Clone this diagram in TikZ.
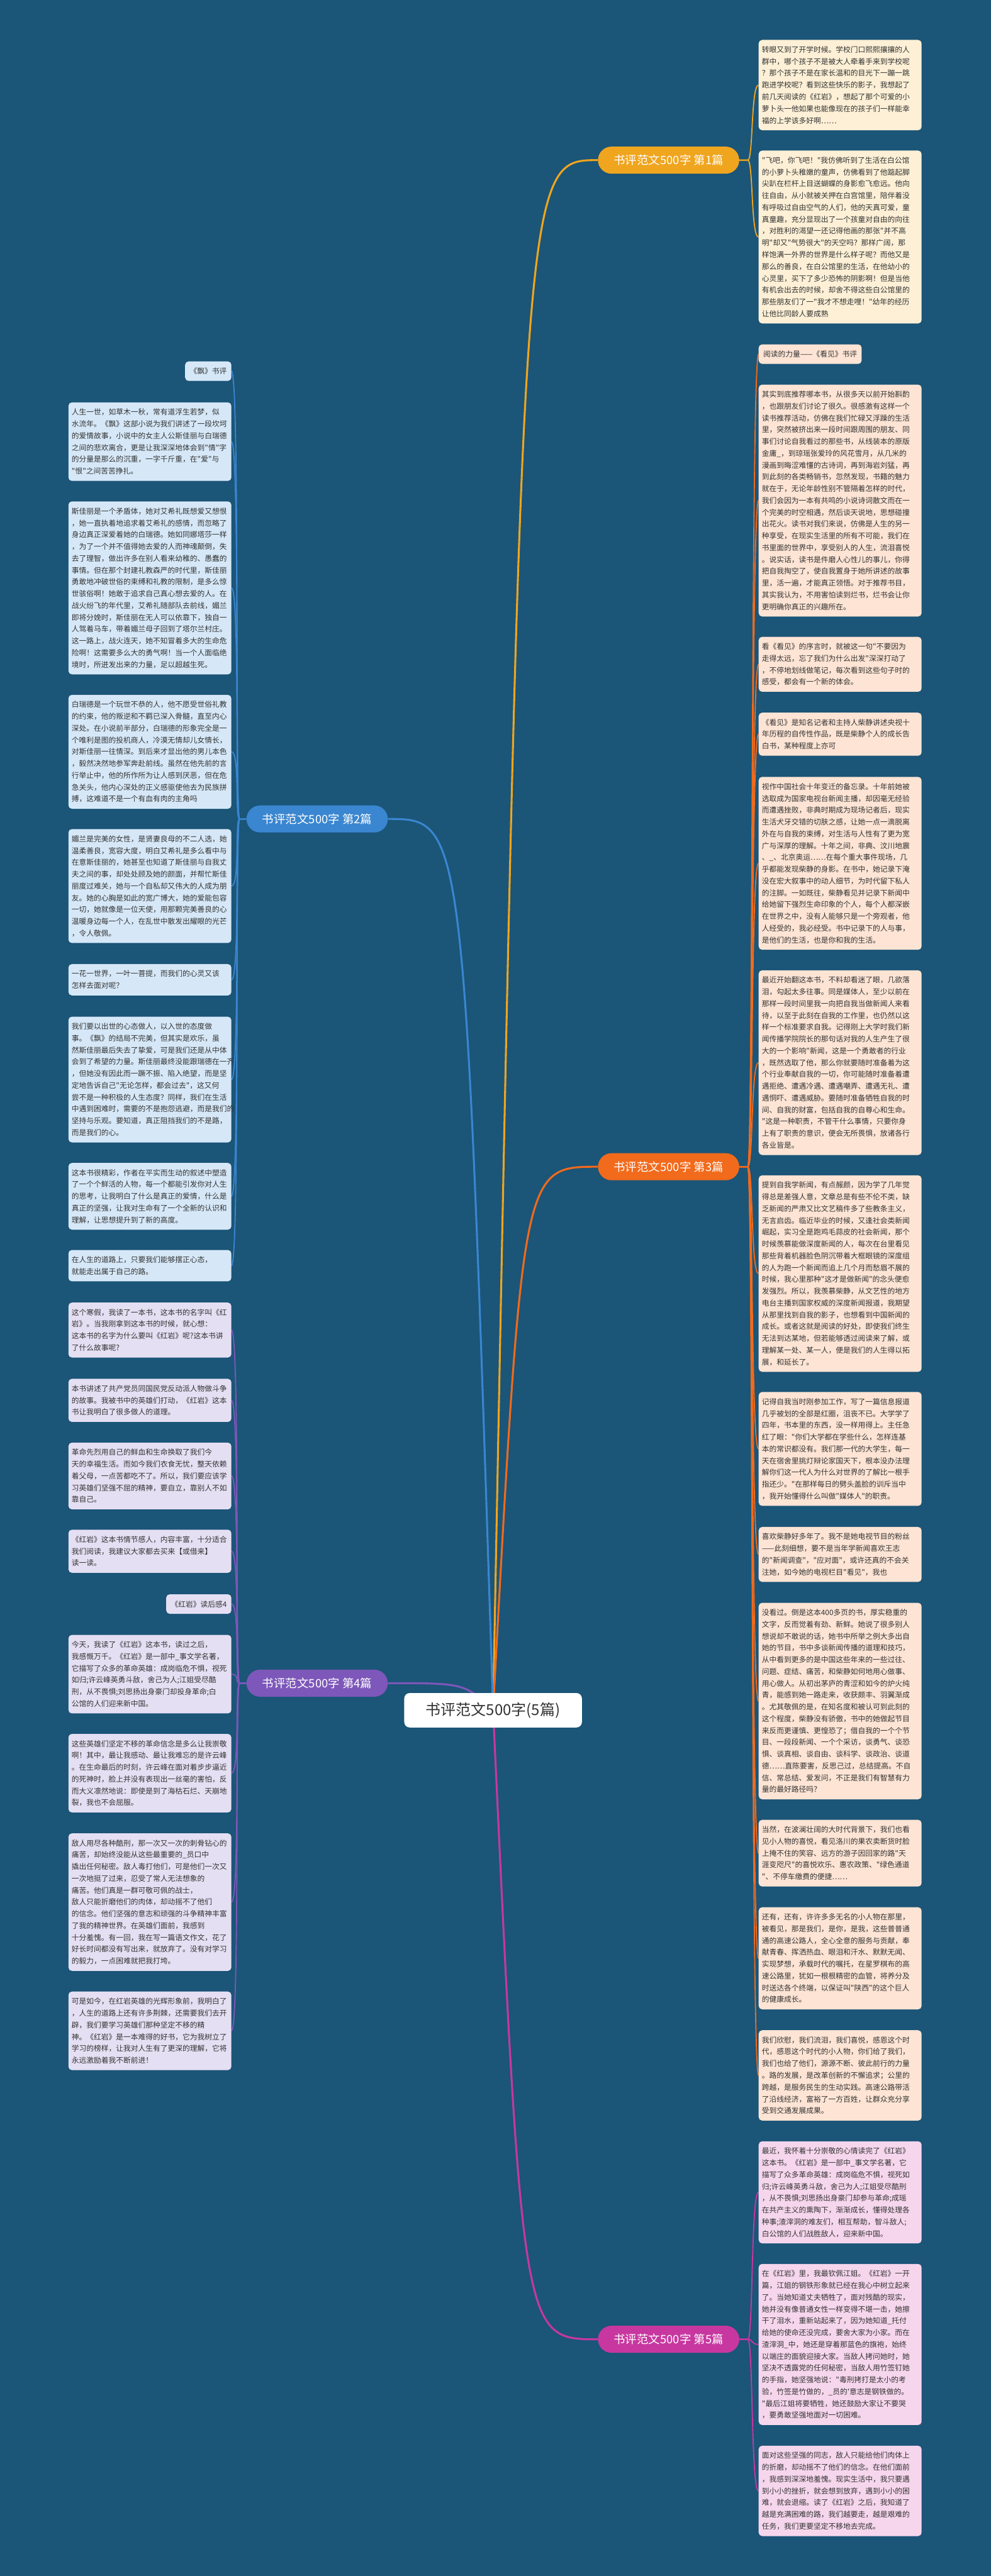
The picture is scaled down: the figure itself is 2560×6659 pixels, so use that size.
\documentclass[tikz,border=0pt]{standalone}
\usepackage{fontspec}
\newfontfamily\cjk{Noto Sans CJK SC}
\usetikzlibrary{backgrounds}
\definecolor{bgc}{RGB}{27,85,120}
\definecolor{txt}{RGB}{51,51,51}
\definecolor{c1}{RGB}{240,165,30}
\definecolor{c2}{RGB}{58,134,208}
\definecolor{c3}{RGB}{242,106,27}
\definecolor{c4}{RGB}{125,87,185}
\definecolor{c5}{RGB}{200,55,160}
\definecolor{l1}{RGB}{253,240,214}
\definecolor{l2}{RGB}{214,232,248}
\definecolor{l3}{RGB}{253,228,212}
\definecolor{l4}{RGB}{229,223,243}
\definecolor{l5}{RGB}{246,214,237}
\newcommand\leaffont{\cjk\fontsize{19.1pt}{30.5pt}\selectfont}
\newcommand\brfont{\cjk\fontsize{30pt}{30pt}\selectfont}
\newcommand\cenfont{\cjk\fontsize{39pt}{39pt}\selectfont}
\newcommand\lstrut{\rule{0pt}{22.5pt}}
\newcommand\lendstrut{\rule[-8pt]{0pt}{8pt}}
\tikzset{
  leafbox/.style={fill=#1, rounded corners=9pt, inner xsep=8.5pt, inner ysep=10pt, text width=404pt, align=left, font=\leaffont, text=txt, execute at begin node=\lstrut, execute at end node=\lendstrut},
  leafR/.style={leafbox=#1, anchor=north west},
  leafL/.style={leafbox=#1, anchor=north east},
  tagbox/.style={fill=#1, rounded corners=9pt, inner xsep=12pt, inner ysep=10pt, font=\leaffont, text=txt, execute at begin node=\lstrut, execute at end node=\lendstrut},
  branchbox/.style={fill=#1, text=white, rounded corners=35pt, minimum height=70pt, minimum width=365pt, inner sep=0pt, font=\brfont},
  link/.style={draw=#1, line width=3pt},
  mainlink/.style={draw=#1, line width=5pt},
}
\begin{document}
\begin{tikzpicture}[x=1pt,y=-1pt]
\useasboundingbox (0,0) rectangle (2560,6659);
% centre and branches
\node[fill=white, rounded corners=14pt, minimum width=459pt, minimum height=89pt, inner sep=0pt, font=\cenfont, text=txt] (C) at (1274,4421) {书评范文500字(5篇)};
\node[branchbox=c1] (B1) at (1727.5,414) {书评范文500字 第1篇};
\node[branchbox=c2] (B2) at (819.5,2117) {书评范文500字 第2篇};
\node[branchbox=c3] (B3) at (1727.5,3016) {书评范文500字 第3篇};
\node[branchbox=c4] (B4) at (819.5,4351) {书评范文500字 第4篇};
\node[branchbox=c5] (B5) at (1727.5,6047) {书评范文500字 第5篇};
% branch 1
\node[leafR=l1] (R1a) at (1960,103) {转眼又到了开学时候。学校门口熙熙攘攘的人\\群中，哪个孩子不是被大人牵着手来到学校呢\\？那个孩子不是在家长温和的目光下一蹦一跳\\跑进学校呢？看到这些快乐的影子，我想起了\\前几天阅读的《红岩》，想起了那个可爱的小\\萝卜头一他如果也能像现在的孩子们一样能幸\\福的上学该多好啊……};
\node[leafR=l1] (R1b) at (1960,389) {"飞吧，你飞吧！"我仿佛听到了生活在白公馆\\的小萝卜头稚嫩的童声，仿佛看到了他踮起脚\\尖趴在栏杆上目送蝴蝶的身影愈飞愈远。他向\\往自由，从小就被关押在白宫馆里，陪伴着没\\有呼吸过自由空气的人们，他的天真可爱，童\\真童趣，充分显现出了一个孩童对自由的向往\\，对胜利的渴望一还记得他画的那张"并不高\\明"却又"气势很大"的天空吗？那样广阔，那\\样饱满一外界的世界是什么样子呢？而他又是\\那么的善良，在白公馆里的生活，在他幼小的\\心灵里，买下了多少恐怖的阴影啊！但是当他\\有机会出去的时候，却舍不得这些白公馆里的\\那些朋友们了一"我才不想走哩！"幼年的经历\\让他比同龄人要成熟};
% branch 3
\node[tagbox=l3, anchor=north west] (R3a) at (1960,890) {阅读的力量——《看见》书评};
\node[leafR=l3] (R3b) at (1960,994) {其实到底推荐哪本书，从很多天以前开始斟酌\\，也跟朋友们讨论了很久。很感激有这样一个\\读书推荐活动，仿佛在我们忙碌又浮躁的生活\\里，突然被挤出来一段时间跟周围的朋友、同\\事们讨论自我看过的那些书，从线装本的原版\\金庸\_，到琼瑶张爱玲的风花雪月，从几米的\\漫画到晦涩难懂的古诗词，再到海岩刘猛，再\\到此刻的各类畅销书，忽然发现，书籍的魅力\\就在于，无论年龄性别不管隔着怎样的时代，\\我们会因为一本有共鸣的小说诗词散文而在一\\个完美的时空相遇，然后谈天说地，思想碰撞\\出花火。读书对我们来说，仿佛是人生的另一\\种享受，在现实生活里的所有不可能，我们在\\书里面的世界中，享受别人的人生，流泪喜悦\\。说实话，读书是件磨人心性儿的事儿，你得\\把自我掏空了，使自我置身于她所讲述的故事\\里，活一遍，才能真正领悟。对于推荐书目，\\其实我认为，不用害怕读到烂书，烂书会让你\\更明确你真正的兴趣所在。};
\node[leafR=l3] (R3c) at (1960,1646) {看《看见》的序言时，就被这一句"不要因为\\走得太远，忘了我们为什么出发"深深打动了\\，不停地划线做笔记，每次看到这些句子时的\\感受，都会有一个新的体会。};
\node[leafR=l3] (R3d) at (1960,1842) {《看见》是知名记者和主持人柴静讲述央视十\\年历程的自传性作品，既是柴静个人的成长告\\白书，某种程度上亦可};
\node[leafR=l3] (R3e) at (1960,2008) {视作中国社会十年变迁的备忘录。十年前她被\\选取成为国家电视台新闻主播，却因毫无经验\\而遭遇挫败，非典时期成为现场记者后，现实\\生活犬牙交错的切肤之感，让她一点一滴脱离\\外在与自我的束缚，对生活与人性有了更为宽\\广与深厚的理解。十年之间，非典、汶川地震\\、\_、北京奥运……在每个重大事件现场，几\\乎都能发现柴静的身影。在书中，她记录下淹\\没在宏大叙事中的动人细节，为时代留下私人\\的注脚。一如既往，柴静看见并记录下新闻中\\给她留下强烈生命印象的个人，每个人都深嵌\\在世界之中，没有人能够只是一个旁观者，他\\人经受的，我必经受。书中记录下的人与事，\\是他们的生活，也是你和我的生活。};
\node[leafR=l3] (R3f) at (1960,2508) {最近开始翻这本书，不料却看迷了眼，几欲落\\泪，勾起太多往事。同是媒体人，至少以前在\\那样一段时间里我一向把自我当做新闻人来看\\待，以至于此刻在自我的工作里，也仍然以这\\样一个标准要求自我。记得刚上大学时我们新\\闻传播学院院长的那句话对我的人生产生了很\\大的一个影响"新闻，这是一个勇敢者的行业\\，既然选取了他，那么你就要随时准备着为这\\个行业奉献自我的一切，你可能随时准备着遭\\遇拒绝、遭遇冷遇、遭遇嘲弄、遭遇无礼、遭\\遇恫吓、遭遇威胁。要随时准备牺牲自我的时\\间、自我的财富，包括自我的自尊心和生命。\\"这是一种职责，不管干什么事情，只要你身\\上有了职责的意识，便会无所畏惧，放诸各行\\各业皆是。};
\node[leafR=l3] (R3g) at (1960,3038) {提到自我学新闻，有点赧颜，因为学了几年觉\\得总是差强人意，文章总是有些不伦不类，缺\\乏新闻的严肃又比文艺稿件多了些教条主义，\\无言启齿。临近毕业的时候，又逢社会类新闻\\崛起，实习全是跑鸡毛蒜皮的社会新闻，那个\\时候羡慕能做深度新闻的人，每次在台里看见\\那些背着机器脸色阴沉带着大框眼镜的深度组\\的人为跑一个新闻而追上几个月而愁眉不展的\\时候，我心里那种"这才是做新闻"的念头便愈\\发强烈。所以，我羡慕柴静，从文艺性的地方\\电台主播到国家权威的深度新闻报道，我期望\\从那里找到自我的影子，也想看到中国新闻的\\成长。或者这就是阅读的好处，即使我们终生\\无法到达某地，但若能够透过阅读来了解，或\\理解某一处、某一人，便是我们的人生得以拓\\展，和延长了。};
\node[leafR=l3] (R3h) at (1960,3598) {记得自我当时刚参加工作，写了一篇信息报道\\几乎被划的全部是红圈，沮丧不已。大学学了\\四年，书本里的东西，没一样用得上。主任急\\红了眼："你们大学都在学些什么，怎样连基\\本的常识都没有。我们那一代的大学生，每一\\天在宿舍里挑灯辩论家国天下，根本没办法理\\解你们这一代人为什么对世界的了解比一根手\\指还少。"在那样每日的劈头盖脸的训斥当中\\，我开始懂得什么叫做"媒体人"的职责。};
\node[leafR=l3] (R3i) at (1960,3947) {喜欢柴静好多年了。我不是她电视节目的粉丝\\——此刻细想，要不是当年学新闻喜欢王志\\的"新闻调查"，"应对面"，或许还真的不会关\\注她，如今她的电视栏目"看见"，我也};
\node[leafR=l3] (R3j) at (1960,4143) {没看过。倒是这本400多页的书，厚实稳重的\\文字，反而觉着有劲、新鲜。她说了很多别人\\想说却不敢说的话，她书中所举之例大多出自\\她的节目，书中多谈新闻传播的道理和技巧，\\从中看到更多的是中国这些年来的一些过往、\\问题、症结、痛苦，和柴静如何地用心做事、\\用心做人。从初出茅庐的青涩和如今的炉火纯\\青，能感到她一路走来，收获颇丰、羽翼渐成\\。尤其敬佩的是，在知名度和被认可到此刻的\\这个程度，柴静没有骄傲，书中的她做起节目\\来反而更谨慎、更惶恐了；借自我的一个个节\\目、一段段新闻、一个个采访，谈勇气、谈恐\\惧、谈真相、谈自由、谈科学、谈政治、谈道\\德……直陈要害，反思己过，总结提高。不自\\信、常总结、爱发问，不正是我们有智慧有力\\量的最好路径吗？};
\node[leafR=l3] (R3k) at (1960,4704) {当然，在波澜壮阔的大时代背景下，我们也看\\见小人物的喜悦，看见洛川的果农卖断货时脸\\上掩不住的笑容、远方的游子因回家的路"天\\涯变咫尺"的喜悦欢乐、惠农政策、"绿色通道\\"、不停车缴费的便捷……};
\node[leafR=l3] (R3l) at (1960,4930) {还有，还有，许许多多无名的小人物在那里，\\被看见，那是我们，是你，是我，这些普普通\\通的高速公路人，全心全意的服务与贡献，奉\\献青春、挥洒热血、眼泪和汗水、默默无闻、\\实现梦想，承载时代的嘱托，在星罗棋布的高\\速公路里，犹如一根根精密的血管，将养分及\\时送达各个终端，以保证叫"陕西"的这个巨人\\的健康成长。};
\node[leafR=l3] (R3m) at (1960,5248) {我们欣慰，我们流泪，我们喜悦，感恩这个时\\代，感恩这个时代的小人物，你们给了我们，\\我们也给了他们，源源不断、彼此前行的力量\\。路的发展，是改革创新的不懈追求；公里的\\跨越，是服务民生的生动实践。高速公路带活\\了沿线经济，富裕了一方百姓，让群众充分享\\受到交通发展成果。};
% branch 5
\node[leafR=l5] (R5a) at (1960,5535) {最近，我怀着十分崇敬的心情读完了《红岩》\\这本书。《红岩》是一部中\_事文学名著，它\\描写了众多革命英雄：成岗临危不惧，视死如\\归;许云峰英勇斗敌，舍己为人;江姐受尽酷刑\\，从不畏惧;刘思扬出身豪门却参与革命;成瑶\\在共产主义的熏陶下，渐渐成长，懂得处理各\\种事;渣滓洞的难友们，相互帮助，智斗敌人;\\白公馆的人们战胜敌人，迎来新中国。};
\node[leafR=l5] (R5b) at (1960,5852) {在《红岩》里，我最钦佩江姐。《红岩》一开\\篇，江姐的钢铁形象就已经在我心中树立起来\\了。当她知道丈夫牺牲了，面对残酷的现实，\\她并没有像普通女性一样变得不堪一击，她擦\\干了泪水，重新站起来了，因为她知道\_托付\\给她的使命还没完成，要舍大家为小家。而在\\渣滓洞\_中，她还是穿着那蓝色的旗袍，始终\\以端庄的面貌迎接大家。当敌人拷问她时，她\\坚决不透露党的任何秘密，当敌人用竹签钉她\\的手指，她坚强地说："毒刑拷打是太小的考\\验，竹签是竹做的，\_员的'意志是钢铁做的。\\"最后江姐将要牺牲，她还鼓励大家让不要哭\\，要勇敢坚强地面对一切困难。};
\node[leafR=l5] (R5c) at (1960,6322) {面对这些坚强的同志，敌人只能给他们肉体上\\的折磨，却动摇不了他们的信念。在他们面前\\，我感到深深地羞愧。现实生活中，我只要遇\\到小小的挫折，就会想到放弃，遇到小小的困\\难，就会退缩。读了《红岩》之后，我知道了\\越是充满困难的路，我们越要走，越是艰难的\\任务，我们更要坚定不移地去完成。};
% branch 2 (left)
\node[tagbox=l2, anchor=north east] (L2a) at (598,934) {《飘》书评};
\node[leafL=l2] (L2b) at (598,1040) {人生一世，如草木一秋，常有道浮生若梦，似\\水流年。《飘》这部小说为我们讲述了一段坎坷\\的爱情故事，小说中的女主人公斯佳丽与白瑞德\\之间的悲欢离合，更是让我深深地体会到"情"字\\的分量是那么的沉重，一字千斤重，在"爱"与\\"恨"之间苦苦挣扎。};
\node[leafL=l2] (L2c) at (598,1296) {斯佳丽是一个矛盾体，她对艾希礼既想爱又想恨\\，她一直执着地追求着艾希礼的感情，而忽略了\\身边真正深爱着她的白瑞德。她如同娜塔莎一样\\，为了一个并不值得她去爱的人而神魂颠倒，失\\去了理智，做出许多在别人看来幼稚的、愚蠢的\\事情。但在那个封建礼教森严的时代里，斯佳丽\\勇敢地冲破世俗的束缚和礼教的限制，是多么惊\\世骇俗啊！她敢于追求自己真心想去爱的人。在\\战火纷飞的年代里，艾希礼随部队去前线，媚兰\\即将分娩时，斯佳丽在无人可以依靠下，独自一\\人驾着马车，带着媚兰母子回到了塔尔兰村庄。\\这一路上，战火连天，她不知冒着多大的生命危\\险啊！这需要多么大的勇气啊！当一个人面临绝\\境时，所迸发出来的力量，足以超越生死。};
\node[leafL=l2] (L2d) at (598,1796) {白瑞德是一个玩世不恭的人，他不愿受世俗礼教\\的约束，他的叛逆和不羁已深入骨髓，直至内心\\深处。在小说前半部分，白瑞德的形象完全是一\\个唯利是图的投机商人，冷漠无情却儿女情长，\\对斯佳丽一往情深。到后来才显出他的男儿本色\\，毅然决然地参军奔赴前线。虽然在他先前的言\\行举止中，他的所作所为让人感到厌恶，但在危\\急关头，他内心深处的正义感驱使他去为民族拼\\搏，这难道不是一个有血有肉的主角吗};
\node[leafL=l2] (L2e) at (598,2143) {媚兰是完美的女性，是贤妻良母的不二人选，她\\温柔善良，宽容大度，明白艾希礼是多么看中与\\在意斯佳丽的，她甚至也知道了斯佳丽与自我丈\\夫之间的事，却处处顾及她的颜面，并帮忙斯佳\\丽度过难关，她与一个自私却又伟大的人成为朋\\友。她的心胸是如此的宽广博大，她的爱能包容\\一切，她就像是一位天使，用那颗完美善良的心\\温暖身边每一个人，在乱世中散发出耀眼的光芒\\，令人敬佩。};
\node[leafL=l2] (L2f) at (598,2492) {一花一世界，一叶一菩提，而我们的心灵又该\\怎样去面对呢？};
\node[leafL=l2] (L2g) at (598,2628) {我们要以出世的心态做人，以入世的态度做\\事。《飘》的结局不完美，但其实是欢乐，虽\\然斯佳丽最后失去了挚爱，可是我们还是从中体\\会到了希望的力量。斯佳丽最终没能跟瑞德在一齐\\，但她没有因此而一蹶不振、陷入绝望，而是坚\\定地告诉自己"无论怎样，都会过去"，这又何\\尝不是一种积极的人生态度？同样，我们在生活\\中遇到困难时，需要的不是抱怨逃避，而是我们的\\坚持与乐观。要知道，真正阻挡我们的不是路，\\而是我们的心。};
\node[leafL=l2] (L2h) at (598,3006) {这本书很精彩，作者在平实而生动的叙述中塑造\\了一个个鲜活的人物，每一个都能引发你对人生\\的思考，让我明白了什么是真正的爱情，什么是\\真正的坚强，让我对生命有了一个全新的认识和\\理解，让思想提升到了新的高度。};
\node[leafL=l2] (L2i) at (598,3231) {在人生的道路上，只要我们能够摆正心态，\\就能走出属于自己的路。};
% branch 4 (left)
\node[leafL=l4] (L4a) at (598,3367) {这个寒假，我读了一本书，这本书的名字叫《红\\岩》。当我刚拿到这本书的时候，就心想：\\这本书的名字为什么要叫《红岩》呢?这本书讲\\了什么故事呢?};
\node[leafL=l4] (L4b) at (598,3564) {本书讲述了共产党员同国民党反动派人物做斗争\\的故事。我被书中的英雄们打动，《红岩》这本\\书让我明白了很多做人的道理。};
\node[leafL=l4] (L4c) at (598,3729) {革命先烈用自己的鲜血和生命换取了我们今\\天的幸福生活。而如今我们衣食无忧，整天依赖\\着父母，一点苦都吃不了。所以，我们要应该学\\习英雄们坚强不屈的精神，要自立，靠别人不如\\靠自己。};
\node[leafL=l4] (L4d) at (598,3954) {《红岩》这本书情节感人，内容丰富，十分适合\\我们阅读，我建议大家都去买来【或借来】\\读一读。};
\node[tagbox=l4, anchor=north east] (L4e) at (598,4121) {《红岩》读后感4};
\node[leafL=l4] (L4f) at (598,4226) {今天，我读了《红岩》这本书，读过之后，\\我感慨万千。《红岩》是一部中\_事文学名著，\\它描写了众多的革命英雄：成岗临危不惧，视死\\如归;许云峰英勇斗敌，舍己为人;江姐受尽酷\\刑，从不畏惧;刘思扬出身豪门却投身革命;白\\公馆的人们迎来新中国。};
\node[leafL=l4] (L4g) at (598,4482) {这些英雄们坚定不移的革命信念是多么让我崇敬\\啊！其中，最让我感动、最让我难忘的是许云峰\\。在生命最后的时刻，许云峰在面对着步步逼近\\的死神时，脸上并没有表现出一丝毫的害怕，反\\而大义凛然地说：即使是到了海枯石烂、天崩地\\裂，我也不会屈服。};
\node[leafL=l4] (L4h) at (598,4739) {敌人用尽各种酷刑，那一次又一次的刺骨钻心的\\痛苦，却始终没能从这些最重要的\_员口中\\撬出任何秘密。敌人毒打他们，可是他们一次又\\一次地挺了过来，忍受了常人无法想象的\\痛苦。他们真是一群可敬可佩的战士，\\敌人只能折磨他们的肉体，却动摇不了他们\\的信念。他们坚强的意志和顽强的斗争精神丰富\\了我的精神世界。在英雄们面前，我感到\\十分羞愧。有一回，我在写一篇语文作文，花了\\好长时间都没有写出来，就放弃了。没有对学习\\的毅力，一点困难就把我打垮。};
\node[leafL=l4] (L4i) at (598,5148) {可是如今，在红岩英雄的光辉形象前，我明白了\\，人生的道路上还有许多荆棘，还需要我们去开\\辟，我们要学习英雄们那种坚定不移的精\\神。《红岩》是一本难得的好书，它为我树立了\\学习的榜样，让我对人生有了更深的理解，它将\\永远激励着我不断前进！};
% connectors
\begin{scope}[on background layer]
\fill[bgc] (0,0) rectangle (2560,6659);
\draw[mainlink=c1] (C.center) .. controls (1350,414) .. (B1.west);
\draw[mainlink=c3] (C.center) .. controls (1350,3016) .. (B3.west);
\draw[mainlink=c5] (C.center) .. controls (1350,6047) .. (B5.west);
\draw[mainlink=c2] (C.center) .. controls (1200,2117) .. (B2.east);
\draw[mainlink=c4] (C.center) .. controls (1200,4351) .. (B4.east);
\foreach \n in {R1a,R1b}
  \draw[link=c1] (B1.east) -- ++(22,0) .. controls +(14,0) and +(-20,0) .. (\n.west);
\foreach \n in {R3a,R3b,R3c,R3d,R3e,R3f,R3g,R3h,R3i,R3j,R3k,R3l,R3m}
  \draw[link=c3] (B3.east) -- ++(22,0) .. controls +(14,0) and +(-20,0) .. (\n.west);
\foreach \n in {R5a,R5b,R5c}
  \draw[link=c5] (B5.east) -- ++(22,0) .. controls +(14,0) and +(-20,0) .. (\n.west);
\foreach \n in {L2a,L2b,L2c,L2d,L2e,L2f,L2g,L2h,L2i}
  \draw[link=c2] (B2.west) -- ++(-18,0) .. controls +(-12,0) and +(22,0) .. (\n.east);
\foreach \n in {L4a,L4b,L4c,L4d,L4e,L4f,L4g,L4h,L4i}
  \draw[link=c4] (B4.west) -- ++(-18,0) .. controls +(-12,0) and +(22,0) .. (\n.east);
\end{scope}
\end{tikzpicture}
\end{document}
